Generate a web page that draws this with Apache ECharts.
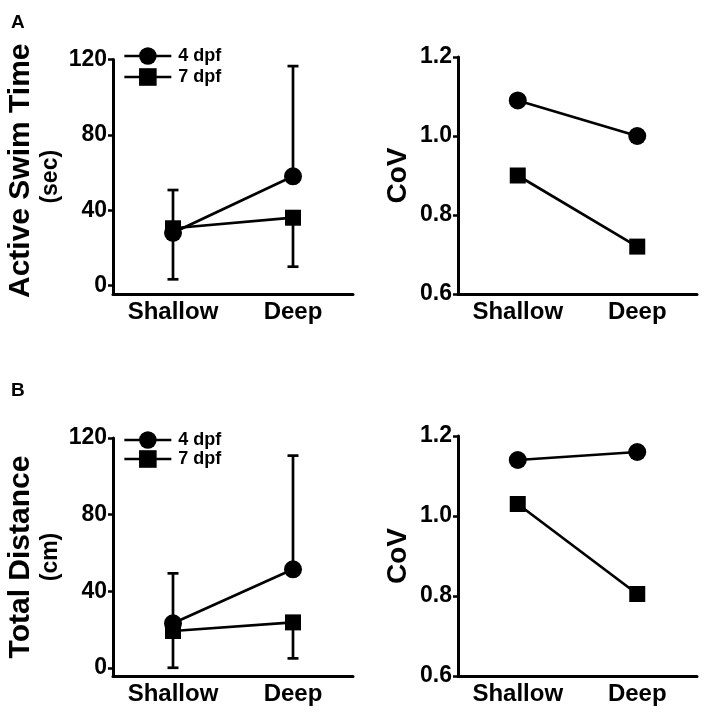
<!DOCTYPE html>
<html>
<head>
<meta charset="utf-8">
<script src="https://cdn.jsdelivr.net/npm/echarts@6/dist/echarts.min.js"></script>
<style>html,body{margin:0;padding:0;background:#fff;}#c{width:708px;height:714px;}</style>
</head>
<body>
<div id="c"></div>
<script>
// ---- data ----
const categories = ['Shallow', 'Deep'];
const seriesNames = ['4 dpf', '7 dpf'];

// Panel A: Active Swim Time (sec)
const swim4Mean = [28, 58];
const swim4Upper = [50.7, 116.5];   // end of upper error bar
const swim7Mean = [30.4, 36];
const swim7Lower = [3.3, 10];       // end of lower error bar
const swimCoV4 = [1.09, 1.0];
const swimCoV7 = [0.9, 0.72];

// Panel B: Total Distance (cm)
const dist4Mean = [23.2, 51.4];
const dist4Upper = [49.3, 110.8];
const dist7Mean = [19.2, 23.7];
const dist7Lower = [0, 4.9];
const distCoV4 = [1.14, 1.16];
const distCoV7 = [1.03, 0.805];

const leftTicks = [0, 40, 80, 120];
const covTicks = [0.6, 0.8, 1.0, 1.2];

// ---- style ----
const FONT = '"Liberation Sans", Arial, Helvetica, sans-serif';
const AW = 3;     // axis line width
const LW = 2.7;   // data line width

const chart = echarts.init(document.getElementById('c'), null, {renderer: 'canvas'});

function xAxisDef(gi) {
  return {
    type: 'category', gridIndex: gi, data: categories,
    axisLine: {onZero: false, lineStyle: {color: '#000', width: AW}},
    axisTick: {alignWithLabel: true, length: 5, lineStyle: {color: '#000', width: 2.5}},
    axisLabel: {color: '#000', fontFamily: FONT, fontWeight: 'bold', fontSize: 24, margin: 6},
    splitLine: {show: false}
  };
}
function yAxisDef(gi, min, max, ticks, name, nameGap, fmt) {
  return {
    type: 'value', gridIndex: gi, min: min, max: max,
    axisLine: {show: true, onZero: false, lineStyle: {color: '#000', width: AW}},
    axisTick: {show: true, length: 5, customValues: ticks, lineStyle: {color: '#000', width: 2.5}},
    axisLabel: {color: '#000', fontFamily: FONT, fontWeight: 'bold', fontSize: 23, margin: 6,
      customValues: ticks, formatter: fmt},
    splitLine: {show: false},
    name: name, nameLocation: 'middle', nameRotate: 90, nameGap: nameGap,
    nameTextStyle: {
      color: '#000', fontFamily: FONT, fontWeight: 'bold',
      rich: {
        a: {fontSize: 30, fontWeight: 'bold', fontFamily: FONT, color: '#000', lineHeight: 34},
        a2: {fontSize: 30, fontWeight: 'bold', fontFamily: FONT, color: '#000', lineHeight: 34, padding: [0, 0, 0, 12]},
        b: {fontSize: 23, fontWeight: 'bold', fontFamily: FONT, color: '#000', lineHeight: 26},
        c: {fontSize: 28, fontWeight: 'bold', fontFamily: FONT, color: '#000', lineHeight: 30}
      }
    }
  };
}

function lineSeries(name, gi, vals, symbol, size, z) {
  return {
    type: 'line', name: name, xAxisIndex: gi, yAxisIndex: gi,
    data: vals, symbol: symbol, symbolSize: size, showSymbol: true,
    lineStyle: {color: '#000', width: LW}, itemStyle: {color: '#000', borderWidth: 0},
    z: z, animation: false, silent: true
  };
}
function errSeries(gi, means, ends) {
  const d = means.map((m, i) => [i, m, ends[i]]);
  return {
    type: 'custom', name: 'err' + gi, xAxisIndex: gi, yAxisIndex: gi, data: d, z: 1,
    animation: false, silent: true,
    renderItem: function (params, api) {
      const p1 = api.coord([api.value(0), api.value(1)]);
      const p2 = api.coord([api.value(0), api.value(2)]);
      const h = 5.5;
      const st = {stroke: '#000', lineWidth: LW};
      return {type: 'group', children: [
        {type: 'line', shape: {x1: p1[0], y1: p1[1], x2: p2[0], y2: p2[1]}, style: st},
        {type: 'line', shape: {x1: p2[0] - h, y1: p2[1], x2: p2[0] + h, y2: p2[1]}, style: st}
      ]};
    }
  };
}

const intFmt = v => String(Math.round(v));
const decFmt = v => v.toFixed(1);

function legendDef(top, gap) {
  return {
    data: seriesNames, orient: 'vertical', left: 123, top: top, padding: 0,
    itemWidth: 47, itemHeight: 22, itemGap: gap, selectedMode: false,
    lineStyle: {width: LW, color: '#000'},
    textStyle: {color: '#000', fontFamily: FONT, fontWeight: 'bold', fontSize: 18, padding: [0, 0, 0, 2]}
  };
}

const option = {
  backgroundColor: '#fff',
  animation: false,
  title: [
    {text: 'A', left: 11, top: 13, padding: 0, textStyle: {fontFamily: FONT, fontWeight: 'bold', fontSize: 19, color: '#000'}},
    {text: 'B', left: 11, top: 381, padding: 0, textStyle: {fontFamily: FONT, fontWeight: 'bold', fontSize: 19, color: '#000'}}
  ],
  legend: [legendDef(47, 3), legendDef(431, 1)],
  grid: [
    {left: 113, top: 59.5, width: 240, height: 234.5},
    {left: 458, top: 57, width: 239, height: 237},
    {left: 113, top: 438, width: 240, height: 238},
    {left: 458, top: 436, width: 239, height: 240}
  ],
  xAxis: [xAxisDef(0), xAxisDef(1), xAxisDef(2), xAxisDef(3)],
  yAxis: [
    yAxisDef(0, -4.5, 120, leftTicks, '{a2|Active Swim Time}\n{b|(sec)}', 49, intFmt),
    yAxisDef(1, 0.6, 1.2, covTicks, '{c|CoV}', 45, decFmt),
    yAxisDef(2, -4.3, 120, leftTicks, '{a|Total Distance}\n{b|(cm)}', 49, intFmt),
    yAxisDef(3, 0.6, 1.2, covTicks, '{c|CoV}', 45, decFmt)
  ],
  series: [
    errSeries(0, swim4Mean, swim4Upper),
    errSeries(0, swim7Mean, swim7Lower),
    lineSeries(seriesNames[0], 0, swim4Mean, 'circle', 18, 3),
    lineSeries(seriesNames[1], 0, swim7Mean, 'rect', 16, 4),
    lineSeries(seriesNames[0], 1, swimCoV4, 'circle', 18, 3),
    lineSeries(seriesNames[1], 1, swimCoV7, 'rect', 16, 4),
    errSeries(2, dist4Mean, dist4Upper),
    errSeries(2, dist7Mean, dist7Lower),
    lineSeries(seriesNames[0], 2, dist4Mean, 'circle', 18, 3),
    lineSeries(seriesNames[1], 2, dist7Mean, 'rect', 16, 4),
    lineSeries(seriesNames[0], 3, distCoV4, 'circle', 18, 3),
    lineSeries(seriesNames[1], 3, distCoV7, 'rect', 16, 4)
  ]
};
chart.setOption(option);
</script>
</body>
</html>
